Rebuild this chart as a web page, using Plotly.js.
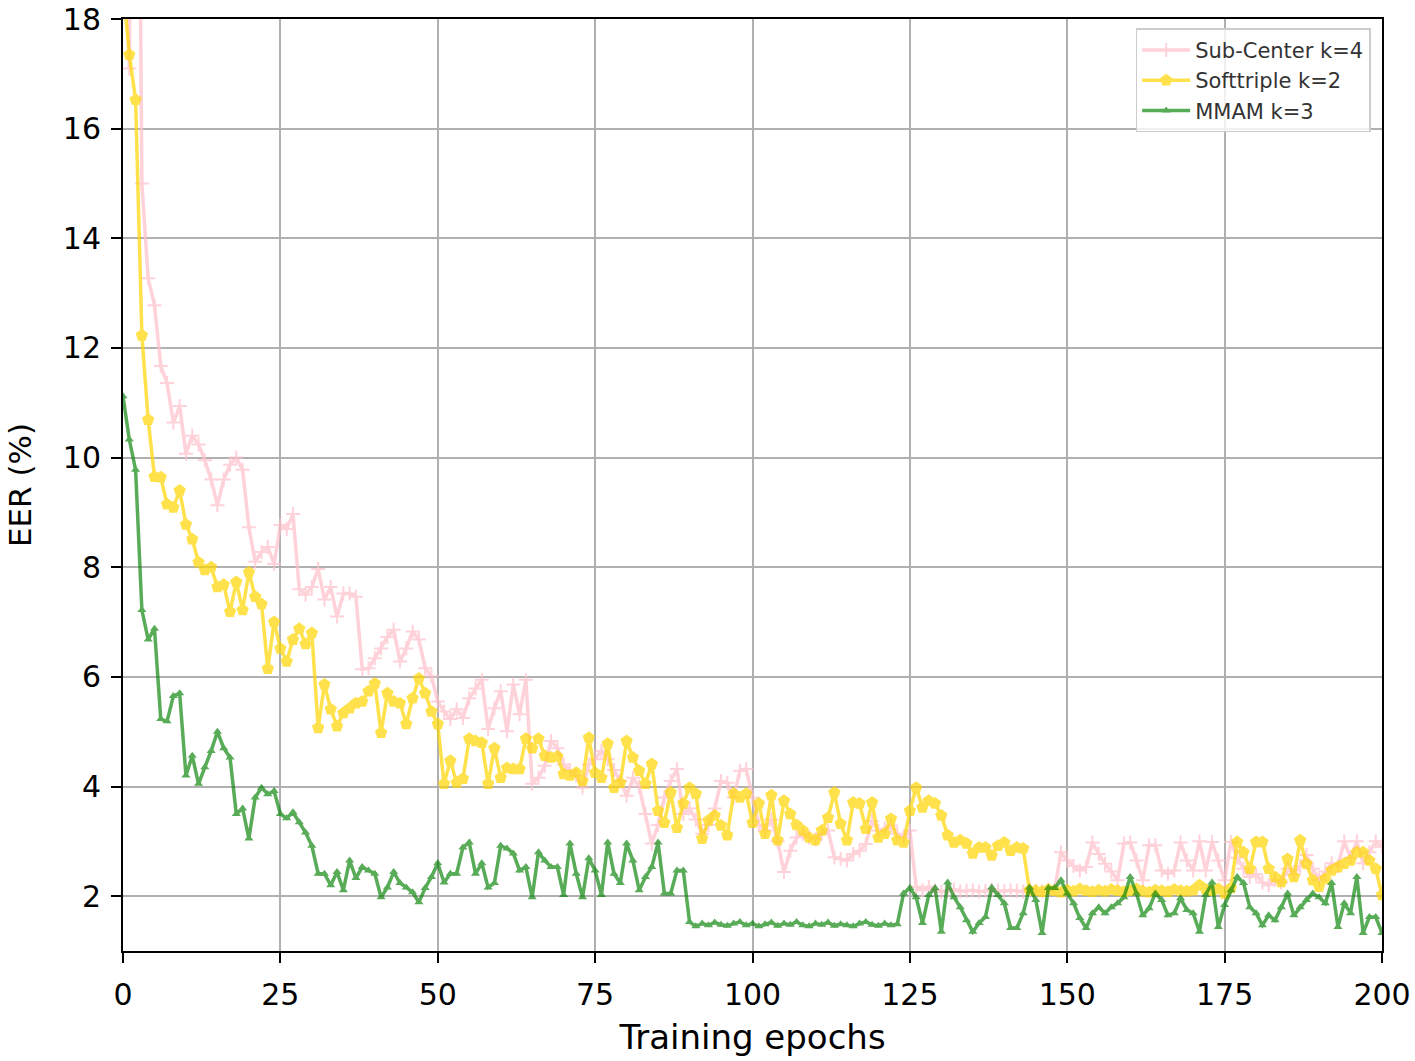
<!DOCTYPE html>
<html>
<head>
<meta charset="utf-8">
<script src="https://cdn.plot.ly/plotly-3.0.1.min.js"></script>
<style>
  html, body { margin: 0; padding: 0; background: #fff; }
  #chart { width: 1415px; height: 1061px; }
</style>
</head>
<body>
<div id="chart"></div>
<script>
// EER (%) per training epoch
const subCenterK4 = [
  24, 17.1, 30, 15.0, 13.27, 12.78, 11.67, 11.36, 10.64, 10.94,
  10.07, 10.4, 10.24, 9.95, 9.6, 9.13, 9.6, 9.87, 10.0, 9.78,
  8.73, 8.1, 8.28, 8.37, 8.06, 8.77, 8.7, 8.97, 7.6, 7.5,
  7.64, 7.97, 7.41, 7.64, 7.1, 7.52, 7.52, 7.46, 6.14, 6.16,
  6.34, 6.52, 6.73, 6.86, 6.28, 6.52, 6.83, 6.68, 6.16, 6.01,
  5.55, 5.37, 5.23, 5.41, 5.25, 5.61, 5.79, 5.95, 5.05, 5.43,
  5.74, 5.01, 5.86, 5.32, 5.95, 4.05, 4.16, 4.38, 4.83, 4.7,
  4.4, 4.3, 4.2, 3.98, 4.4, 4.5, 4.65, 4.5, 4.3, 4.1,
  3.83, 4.16, 4.0, 3.5, 2.96, 3.3, 3.8, 4.1, 4.32, 3.5,
  3.6, 3.4, 3.14, 3.3, 3.6, 4.1, 4.07, 3.8, 4.29, 4.32,
  3.8, 3.3, 3.2, 3.4, 3.0, 2.44, 2.83, 3.07, 3.14, 3.07,
  3.04, 3.14, 3.2, 2.71, 2.68, 2.65, 2.77, 2.83, 2.95, 3.37,
  3.2, 3.23, 3.29, 3.14, 3.07, 3.2, 2.17, 2.11, 2.17, 2.11,
  2.08, 2.1, 2.12, 2.09, 2.1, 2.11, 2.08, 2.1, 2.12, 2.1,
  2.09, 2.11, 2.1, 2.08, 2.12, 2.1, 2.09, 2.11, 2.12, 2.8,
  2.65, 2.55, 2.47, 2.53, 2.98, 2.77, 2.59, 2.45, 2.29, 2.96,
  2.98, 2.65, 2.29, 2.93, 2.93, 2.47, 2.41, 2.47, 2.98, 2.65,
  2.47, 3.0, 2.47, 2.99, 2.65, 2.29, 2.99, 2.7, 2.5, 2.35,
  2.4, 2.25, 2.2, 2.3, 2.25, 2.5, 2.4, 2.55, 2.75, 2.5,
  2.3, 2.45, 2.6, 2.55, 3.0, 2.7, 3.0, 2.6, 2.8, 3.0,
  2.9
];

const softtripleK2 = [
  18.6, 17.35, 16.53, 12.23, 10.69, 9.65, 9.64, 9.15, 9.09, 9.4,
  8.78, 8.51, 8.09, 7.95, 8.0, 7.64, 7.68, 7.19, 7.73, 7.22,
  7.91, 7.46, 7.33, 6.15, 7.0, 6.52, 6.28, 6.68, 6.88, 6.6,
  6.8, 5.07, 5.86, 5.41, 5.1, 5.34, 5.43, 5.52, 5.55, 5.74,
  5.88, 4.98, 5.7, 5.55, 5.52, 5.14, 5.61, 5.97, 5.7, 5.37,
  5.14, 4.05, 4.47, 4.07, 4.14, 4.87, 4.83, 4.8, 4.05, 4.7,
  4.16, 4.34, 4.32, 4.32, 4.87, 4.7, 4.87, 4.56, 4.53, 4.55,
  4.23, 4.2, 4.25, 4.1, 4.89, 4.25, 4.16, 4.78, 3.98, 4.07,
  4.83, 4.53, 4.29, 4.05, 4.41, 3.56, 3.34, 3.89, 3.25, 3.69,
  3.98, 3.87, 3.05, 3.38, 3.47, 3.29, 3.11, 3.87, 3.8, 3.87,
  3.34, 3.69, 3.14, 3.84, 3.02, 3.74, 3.5, 3.3, 3.2, 3.07,
  3.02, 3.2, 3.43, 3.89, 3.32, 3.02, 3.71, 3.69, 3.23, 3.71,
  3.07, 3.14, 3.41, 3.02, 2.98, 3.56, 3.98, 3.62, 3.74, 3.69,
  3.47, 3.11, 2.98, 3.02, 2.96, 2.78, 2.89, 2.89, 2.74, 2.92,
  2.98, 2.83, 2.89, 2.87, 2.11, 2.1, 2.08, 2.12, 2.1, 2.07,
  2.11, 2.09, 2.13, 2.1, 2.08, 2.11, 2.09, 2.12, 2.1, 2.08,
  2.1, 2.13, 2.09, 2.07, 2.11, 2.1, 2.08, 2.12, 2.1, 2.09,
  2.11, 2.2, 2.12, 2.1, 2.13, 2.05, 2.15, 2.99, 2.8, 2.5,
  2.99, 2.99, 2.5, 2.35, 2.26, 2.68, 2.35, 3.02, 2.59, 2.29,
  2.17, 2.32, 2.47, 2.53, 2.59, 2.65, 2.8, 2.8, 2.65, 2.5,
  2.02
];

const mmamK3 = [
  11.12, 10.33, 9.78, 7.22, 6.68, 6.88, 5.23, 5.19, 5.65, 5.7,
  4.2, 4.56, 4.05, 4.35, 4.65, 5.0, 4.7, 4.53, 3.5, 3.6,
  3.05, 3.8, 3.98, 3.86, 3.92, 3.5, 3.42, 3.53, 3.35, 3.16,
  2.92, 2.41, 2.41, 2.2, 2.44, 2.11, 2.65, 2.33, 2.53, 2.47,
  2.41, 1.98, 2.16, 2.44, 2.24, 2.16, 2.07, 1.89, 2.15, 2.35,
  2.6, 2.25, 2.41, 2.41, 2.89, 2.98, 2.41, 2.6, 2.16, 2.24,
  2.92, 2.87, 2.78, 2.47, 2.53, 1.98, 2.8, 2.65, 2.53, 2.53,
  2.02, 2.96, 2.41, 1.98, 2.69, 2.47, 2.02, 2.98, 2.41, 2.24,
  2.96, 2.65, 2.11, 2.35, 2.53, 2.98, 2.05, 2.05, 2.47, 2.47,
  1.53, 1.45, 1.5, 1.47, 1.52, 1.48, 1.46, 1.5, 1.53, 1.47,
  1.5, 1.45, 1.49, 1.52, 1.46, 1.5, 1.48, 1.53, 1.47, 1.45,
  1.5, 1.48, 1.52, 1.46, 1.49, 1.47, 1.45, 1.5, 1.53, 1.48,
  1.46, 1.5, 1.47, 1.49, 2.05, 2.15, 1.98, 1.51, 2.02, 2.15,
  1.35, 2.25, 1.98, 1.8, 1.56, 1.35, 1.51, 1.62, 2.16, 2.02,
  1.87, 1.42, 1.42, 1.69, 2.16, 1.93, 1.33, 2.15, 2.15, 2.29,
  2.05, 1.87, 1.6, 1.42, 1.69, 1.8, 1.69, 1.8, 1.87, 1.98,
  2.35, 2.05, 1.65, 1.78, 2.05, 1.93, 1.65, 1.69, 1.96, 1.75,
  1.69, 1.35, 2.02, 2.25, 1.44, 1.84, 2.11, 2.35, 2.24, 1.8,
  1.69, 1.47, 1.65, 1.56, 1.8, 2.05, 1.65, 1.8, 1.93, 2.05,
  1.98, 1.87, 2.24, 1.44, 1.87, 1.69, 2.35, 1.33, 1.62, 1.62,
  1.33
];

const epochs = mmamK3.map((_, i) => i);
const xTicks = [0, 25, 50, 75, 100, 125, 150, 175, 200];
const yTicks = [2, 4, 6, 8, 10, 12, 14, 16, 18];

const font = 'DejaVu Sans, Liberation Sans, sans-serif';

const traces = [
  {
    x: epochs,
    y: subCenterK4,
    name: 'Sub-Center k=4',
    type: 'scatter',
    mode: 'lines+markers',
    opacity: 0.7,
    line: { color: '#ffc0cb', width: 3.5 },
    marker: { symbol: 'cross-thin', size: 10, color: '#ffc0cb', line: { color: '#ffc0cb', width: 2 } }
  },
  {
    x: epochs,
    y: softtripleK2,
    name: 'Softtriple k=2',
    type: 'scatter',
    mode: 'lines+markers',
    opacity: 0.7,
    line: { color: '#ffd700', width: 3.5 },
    marker: { symbol: 'pentagon', size: 13, color: '#ffd700' }
  },
  {
    x: epochs,
    y: mmamK3,
    name: 'MMAM k=3',
    type: 'scatter',
    mode: 'lines+markers',
    opacity: 0.65,
    line: { color: '#008000', width: 3.5 },
    marker: { symbol: 'triangle-up', size: 8, color: '#008000' }
  }
];

const axisCommon = {
  showline: true,
  linecolor: '#000',
  linewidth: 2,
  mirror: true,
  ticks: 'outside',
  ticklen: 10,
  tickwidth: 2,
  tickcolor: '#000',
  showgrid: true,
  gridcolor: '#b0b0b0',
  gridwidth: 2,
  zeroline: false,
  ticklabeloverflow: 'allow',
  tickfont: { family: font, size: 30, color: '#000' }
};

const layout = {
  width: 1415,
  height: 1061,
  margin: { l: 123, r: 33, t: 19, b: 110 },
  paper_bgcolor: '#fff',
  plot_bgcolor: '#fff',
  font: { family: font, color: '#000' },
  xaxis: Object.assign({}, axisCommon, {
    range: [0, 200],
    tickvals: xTicks,
    ticktext: xTicks.map(String),
    ticklabelstandoff: 6,
    title: { text: 'Training epochs', font: { family: font, size: 34 }, standoff: 14 }
  }),
  yaxis: Object.assign({}, axisCommon, {
    range: [1, 18.001],
    tickvals: yTicks,
    ticktext: yTicks.map(String),
    ticklabelstandoff: 4,
    title: { text: 'EER (%)', font: { family: font, size: 31 }, standoff: 22 }
  }),
  legend: {
    x: 0.991,
    y: 0.99,
    xanchor: 'right',
    yanchor: 'top',
    bgcolor: 'rgba(255,255,255,0.8)',
    bordercolor: '#cccccc',
    borderwidth: 1.5,
    itemwidth: 48,
    font: { family: font, size: 21, color: '#333' },
    tracegroupgap: 0
  },
  showlegend: true
};

Plotly.newPlot('chart', traces, layout, { displayModeBar: false, staticPlot: true });
</script>
</body>
</html>
